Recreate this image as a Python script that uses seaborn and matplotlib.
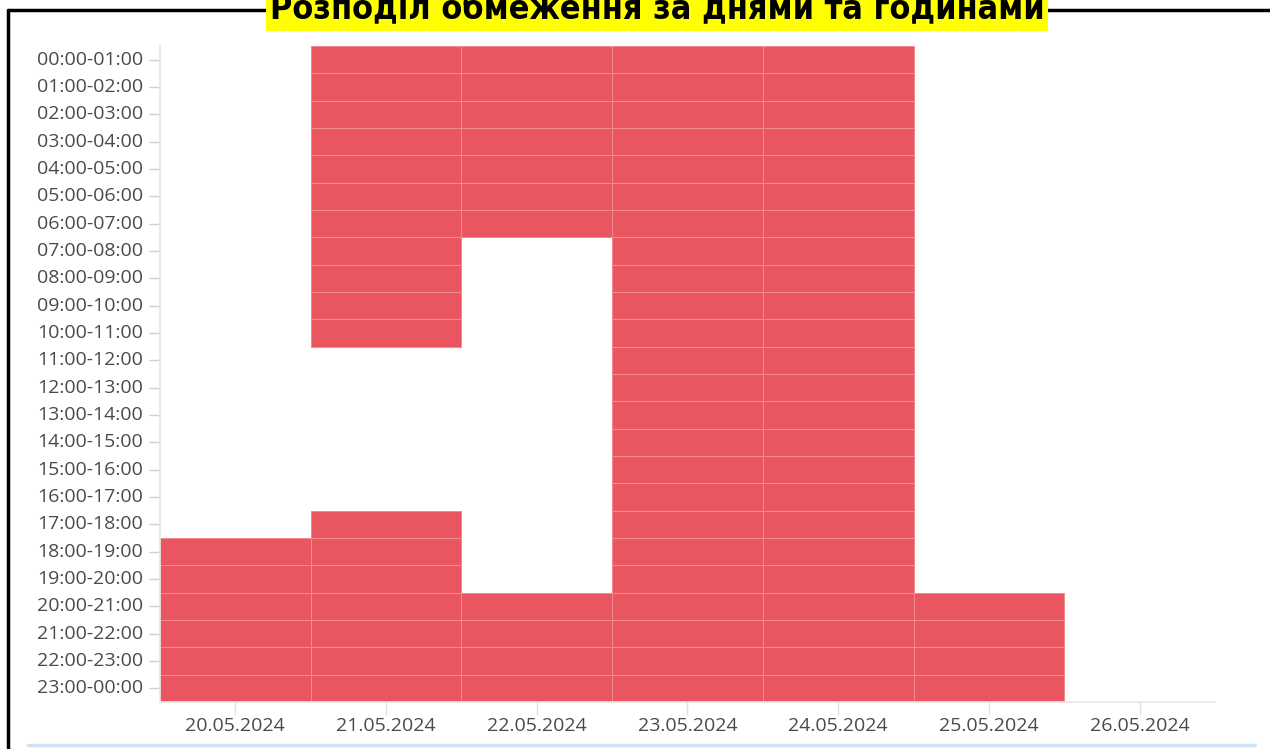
import numpy as np
import pandas as pd
import matplotlib
matplotlib.use("Agg")
import matplotlib.pyplot as plt
import seaborn as sns
from matplotlib.colors import ListedColormap, to_rgba
from matplotlib.lines import Line2D

# Дані: 1 = обмеження у цю годину
dates = ["20.05.2024", "21.05.2024", "22.05.2024", "23.05.2024",
         "24.05.2024", "25.05.2024", "26.05.2024"]
hours = ["00:00-01:00", "01:00-02:00", "02:00-03:00", "03:00-04:00",
         "04:00-05:00", "05:00-06:00", "06:00-07:00", "07:00-08:00",
         "08:00-09:00", "09:00-10:00", "10:00-11:00", "11:00-12:00",
         "12:00-13:00", "13:00-14:00", "14:00-15:00", "15:00-16:00",
         "16:00-17:00", "17:00-18:00", "18:00-19:00", "19:00-20:00",
         "20:00-21:00", "21:00-22:00", "22:00-23:00", "23:00-00:00"]

d_20 = [0, 0, 0, 0, 0, 0, 0, 0, 0, 0, 0, 0, 0, 0, 0, 0, 0, 0, 1, 1, 1, 1, 1, 1]
d_21 = [1, 1, 1, 1, 1, 1, 1, 1, 1, 1, 1, 0, 0, 0, 0, 0, 0, 1, 1, 1, 1, 1, 1, 1]
d_22 = [1, 1, 1, 1, 1, 1, 1, 0, 0, 0, 0, 0, 0, 0, 0, 0, 0, 0, 0, 0, 1, 1, 1, 1]
d_23 = [1, 1, 1, 1, 1, 1, 1, 1, 1, 1, 1, 1, 1, 1, 1, 1, 1, 1, 1, 1, 1, 1, 1, 1]
d_24 = [1, 1, 1, 1, 1, 1, 1, 1, 1, 1, 1, 1, 1, 1, 1, 1, 1, 1, 1, 1, 1, 1, 1, 1]
d_25 = [0, 0, 0, 0, 0, 0, 0, 0, 0, 0, 0, 0, 0, 0, 0, 0, 0, 0, 0, 0, 1, 1, 1, 1]
d_26 = [0, 0, 0, 0, 0, 0, 0, 0, 0, 0, 0, 0, 0, 0, 0, 0, 0, 0, 0, 0, 0, 0, 0, 0]

df = pd.DataFrame({dates[0]: d_20, dates[1]: d_21, dates[2]: d_22,
                   dates[3]: d_23, dates[4]: d_24, dates[5]: d_25,
                   dates[6]: d_26}, index=hours)

sns.set_style("white")
plt.rcParams['font.family'] = ['Open Sans', 'DejaVu Sans']

fig = plt.figure(figsize=(12.7, 7.49), dpi=100)
ax = fig.add_axes([160 / 1270, 1 - 702 / 749, 1055 / 1270, 656 / 749])

sns.heatmap(df, mask=(df == 0), cmap=ListedColormap(["#e9565f"]), cbar=False,
            linewidths=0.7, linecolor="#f28a90", ax=ax, vmin=0, vmax=1)

# лінії сітки тільки для зафарбованих клітинок
mesh = ax.collections[0]
edge = [to_rgba("#f28a90") if v else (0, 0, 0, 0) for v in df.values.ravel()]
mesh.set_edgecolor(edge)

ax.set_xlabel("")
ax.set_ylabel("")
ax.tick_params(axis="y", left=True, length=8, width=1, color="#d0d0d0",
               labelsize=14, labelcolor="#4a4a4a", pad=4)
ax.tick_params(axis="x", bottom=True, length=9, width=1, color="#e0e0e0",
               labelsize=14, labelcolor="#4a4a4a", pad=2, rotation=0)
plt.setp(ax.get_yticklabels(), rotation=0)

for s in ["left", "bottom"]:
    ax.spines[s].set_visible(True)
    ax.spines[s].set_color("#e6e6e6")
    ax.spines[s].set_linewidth(1.2)
ax.spines["top"].set_visible(False)
ax.spines["right"].set_visible(False)

# рамка навколо графіка
fig.add_artist(Line2D([8 / 1270, 8 / 1270], [0, 1 - 10 / 749],
                      transform=fig.transFigure, color="black", lw=2.5))
fig.add_artist(Line2D([8 / 1270, 1], [1 - 10 / 749, 1 - 10 / 749],
                      transform=fig.transFigure, color="black", lw=2.5))
fig.add_artist(Line2D([28 / 1270, 1255 / 1270], [1 - 745 / 749, 1 - 745 / 749],
                      transform=fig.transFigure, color="#cfe2f3", lw=2.5))

fig.text(657 / 1270, 1 - 10 / 749, "Розподіл обмеження за днями та годинами",
         ha="center", va="center", fontsize=24.5, fontweight="bold",
         fontstretch="condensed", family=["DejaVu Sans"], color="black",
         bbox=dict(facecolor="#ffff00", edgecolor="none", pad=3))

plt.savefig("out.png", dpi=100)
